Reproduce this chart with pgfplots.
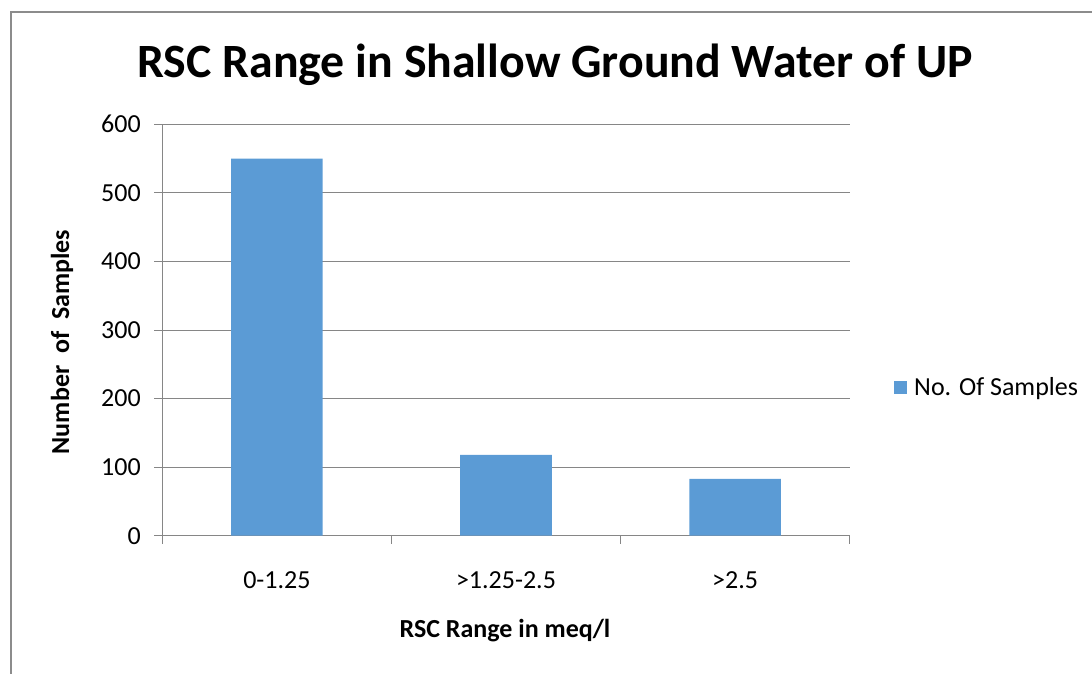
\documentclass[border=0pt]{standalone}
\usepackage{pgfplots}
\pgfplotsset{compat=1.18}
\usepackage{fontspec}
\setmainfont{Carlito}
\definecolor{barblue}{HTML}{5B9BD5}
\definecolor{gridgray}{HTML}{868686}
\definecolor{framegray}{HTML}{8C8C8C}
\begin{document}
\begin{tikzpicture}[x=1pt,y=1pt]
\useasboundingbox (0,0) rectangle (1092,673);
\draw[framegray, line width=2.5pt] (11,-5) -- (11,661) -- (1100,661);
\node[anchor=base, font=\fontsize{47.8}{50}\selectfont\bfseries] at (555,595) {RSC Range in Shallow Ground Water of UP};
\begin{axis}[
  at={(162.3pt,137.3pt)}, anchor=south west,
  width=687.4pt, height=411.4pt, scale only axis,
  xmin=-0.5, xmax=2.5, ymin=0, ymax=600,
  axis lines*=left,
  axis line style={gridgray, line width=1.2pt},
  ytick={0,100,...,600},
  ymajorgrids, grid style={gridgray, line width=1pt},
  tick align=outside, major tick length=8pt,
  tick style={gridgray, line width=1pt},
  xtick={0,1,2},
  xticklabels={0-1.25,>1.25-2.5,>2.5},
  x tick style={draw=none},
  extra x ticks={-0.5,0.5,1.5,2.5},
  extra x tick labels={},
  extra x tick style={grid=none, x tick style={draw=gridgray, line width=1pt}, major tick length=8pt},
  /pgf/number format/assume math mode=true,
  ticklabel style={font=\fontsize{26}{28}\selectfont},
  xticklabel style={yshift=-24pt},
  yticklabel style={xshift=-10pt},
  bar width=0.4,
  legend style={draw=none, fill=none, font=\fontsize{26}{28}\selectfont, at={(rel axis cs:0,0)}, shift={(728.7pt,148.7pt)}, anchor=west},
  legend cell align=left,
  legend image code/.code={\fill[barblue] (0pt,-6.5pt) rectangle (13pt,6.5pt); \path (18pt,0pt);},
]
\addplot[ybar, fill=barblue, draw=none] coordinates {(0,550) (1,118) (2,83)};
\addlegendentry{No. Of Samples}
\end{axis}
\node[rotate=90, anchor=center, font=\fontsize{26}{28}\selectfont\bfseries] at (62,331) {Number~ of~ Samples};
\node[anchor=base, font=\fontsize{26}{28}\selectfont\bfseries] at (505,36) {RSC Range in meq/l};
\end{tikzpicture}
\end{document}
